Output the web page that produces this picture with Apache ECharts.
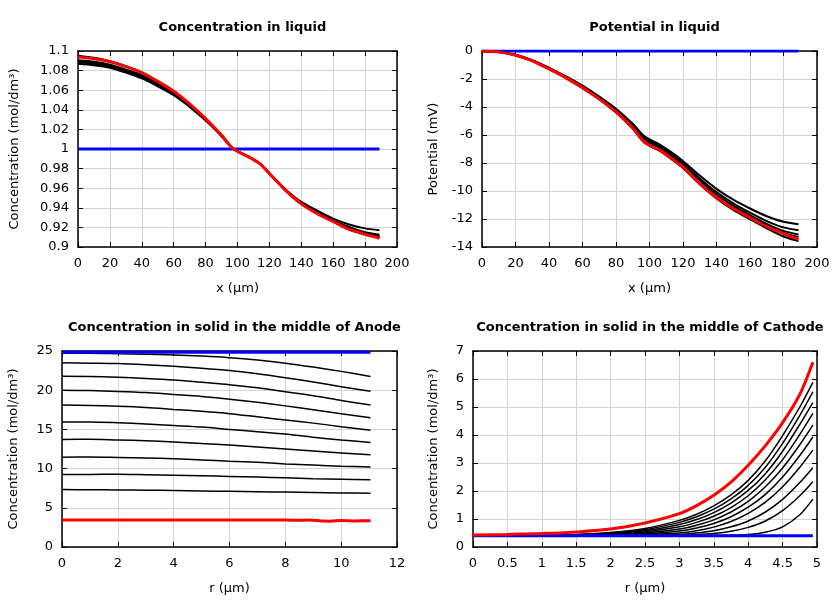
<!DOCTYPE html>
<html><head><meta charset="utf-8">
<script src="https://cdn.jsdelivr.net/npm/echarts@6/dist/echarts.min.js"></script>
<style>html,body{margin:0;padding:0;background:#fff}#c{width:840px;height:600px}</style>
</head><body><div id="c"></div>
<script>
// ---------- Data ----------
// Liquid (x in µm)
const LIQ_X = [0,10,20,30,40,50,60,70,80,90,97,107,114,120,130,140,150,160,170,180,189];
const LIQ_CONC_RED = [1.094,1.092,1.089,1.084,1.078,1.069,1.059,1.046,1.031,1.014,1.0006,0.992,0.985,0.975,0.958,0.944,0.934,0.926,0.918,0.913,0.909];
const LIQ_CONC_B1 = [1.087,1.0855,1.083,1.078,1.072,1.064,1.055,1.043,1.029,1.013,1.0005,0.992,0.985,0.975,0.959,0.946,0.937,0.929,0.923,0.919,0.917];
const LIQ_CONC_B2 = [1.0885,1.087,1.084,1.079,1.073,1.065,1.056,1.044,1.030,1.0135,1.0005,0.992,0.985,0.975,0.9585,0.945,0.9355,0.927,0.9205,0.915,0.9125];
const LIQ_CONC_B3 = [1.0895,1.088,1.085,1.080,1.0745,1.066,1.057,1.0445,1.0303,1.0137,1.0005,0.992,0.985,0.975,0.958,0.9445,0.935,0.9265,0.919,0.914,0.911];
const LIQ_CONC_B4 = [1.0905,1.089,1.086,1.081,1.0755,1.067,1.0575,1.045,1.0306,1.014,1.0005,0.992,0.985,0.975,0.958,0.9443,0.9345,0.926,0.9185,0.9135,0.910];
const LIQ_CONC_B5 = [1.0952,1.093,1.0895,1.0845,1.078,1.069,1.059,1.046,1.031,1.014,1.0006,0.992,0.985,0.975,0.958,0.944,0.934,0.926,0.918,0.913,0.9095];
const LIQ_CONC_BLUE = [1.0,1.0];
const LIQ_X_BLUE = [0,189];

const LIQ_POT_RED = [0,-0.08,-0.3,-0.7,-1.28,-1.9,-2.62,-3.42,-4.35,-5.5,-6.5,-7.15,-7.75,-8.3,-9.45,-10.45,-11.25,-11.9,-12.55,-13.05,-13.45];
const LIQ_POT_B1 = [0,-0.07,-0.27,-0.65,-1.2,-1.8,-2.48,-3.25,-4.12,-5.2,-6.1,-6.75,-7.3,-7.85,-8.9,-9.85,-10.62,-11.25,-11.8,-12.2,-12.38];
const LIQ_POT_B2 = [0,-0.07,-0.28,-0.67,-1.22,-1.83,-2.52,-3.3,-4.2,-5.3,-6.22,-6.87,-7.45,-8.0,-9.1,-10.08,-10.88,-11.55,-12.15,-12.6,-12.8];
const LIQ_POT_B3 = [0,-0.08,-0.29,-0.68,-1.24,-1.86,-2.56,-3.35,-4.26,-5.38,-6.32,-6.97,-7.56,-8.12,-9.25,-10.25,-11.05,-11.72,-12.35,-12.85,-13.1];
const LIQ_POT_B4 = [0,-0.08,-0.29,-0.69,-1.26,-1.88,-2.6,-3.39,-4.31,-5.44,-6.4,-7.05,-7.65,-8.2,-9.35,-10.35,-11.15,-11.82,-12.45,-13.0,-13.28];
const LIQ_POT_B5 = [0,-0.08,-0.31,-0.71,-1.3,-1.93,-2.65,-3.46,-4.4,-5.56,-6.55,-7.2,-7.8,-8.36,-9.52,-10.53,-11.35,-12.02,-12.67,-13.25,-13.58];
const LIQ_POT_BLUE = [0,0];

// Anode solid (r in µm)
const AN_R = [0,1,2,3,4,5,6,7,8,9,10,11.05];
const AN_B1 = [24.7,24.7,24.65,24.6,24.5,24.35,24.15,23.85,23.45,22.95,22.4,21.75];
const AN_B2 = [23.5,23.45,23.4,23.25,23.05,22.8,22.5,22.1,21.6,21.05,20.45,19.87];
const AN_B3 = [21.77,21.75,21.65,21.5,21.3,21.0,20.7,20.3,19.8,19.3,18.7,18.1];
const AN_B4 = [19.98,19.95,19.85,19.7,19.45,19.2,18.85,18.45,18.0,17.5,17.0,16.5];
const AN_B5 = [18.1,18.05,17.95,17.8,17.55,17.3,17.0,16.6,16.2,15.8,15.35,14.9];
const AN_B6 = [15.93,15.95,15.85,15.7,15.5,15.3,15.0,14.7,14.4,14.0,13.65,13.33];
const AN_B7 = [13.72,13.75,13.65,13.55,13.4,13.2,13.0,12.75,12.5,12.25,12.0,11.76];
const AN_B8 = [11.46,11.48,11.42,11.35,11.25,11.1,10.95,10.8,10.6,10.45,10.3,10.2];
const AN_B9 = [9.24,9.25,9.28,9.22,9.15,9.08,9.0,8.92,8.82,8.72,8.65,8.57];
const AN_B10 = [7.33,7.3,7.28,7.25,7.2,7.15,7.1,7.05,7.0,6.95,6.9,6.87];
const AN_R_RED = [0,1,2,3,4,5,6,7,8,8.5,8.8,9.0,9.3,9.6,10,10.5,11.05];
const AN_RED = [3.45,3.45,3.45,3.45,3.45,3.45,3.45,3.45,3.45,3.4,3.45,3.42,3.32,3.3,3.38,3.33,3.35];
const AN_R_BLUE = [0,11.05];
const AN_BLUE = [24.85,24.85];

// Cathode solid (r in µm)
const CA_R = [0,0.5,1,1.5,2,2.5,3,3.25,3.5,3.75,4,4.25,4.5,4.75,4.94];
const CA_RED = [0.43,0.45,0.48,0.54,0.64,0.86,1.19,1.48,1.85,2.32,2.92,3.62,4.44,5.45,6.6];
const CA_B1 = [0.41,0.41,0.42,0.45,0.52,0.66,0.95,1.17,1.47,1.86,2.38,3.08,3.98,5.0,5.88];
const CA_B2 = [0.41,0.41,0.42,0.44,0.5,0.62,0.88,1.08,1.35,1.72,2.2,2.85,3.7,4.7,5.54];
const CA_B3 = [0.4,0.4,0.41,0.43,0.48,0.58,0.8,0.98,1.23,1.57,2.02,2.62,3.42,4.38,5.16];
const CA_B4 = [0.4,0.4,0.41,0.42,0.46,0.54,0.72,0.88,1.1,1.41,1.83,2.4,3.12,4.02,4.77];
const CA_B5 = [0.4,0.4,0.4,0.41,0.44,0.5,0.64,0.78,0.97,1.25,1.63,2.15,2.82,3.65,4.35];
const CA_B6 = [0.4,0.4,0.4,0.41,0.42,0.47,0.57,0.68,0.84,1.08,1.42,1.88,2.5,3.27,3.93];
const CA_B7 = [0.4,0.4,0.4,0.4,0.41,0.44,0.5,0.58,0.71,0.91,1.2,1.6,2.15,2.85,3.46];
const CA_B8 = [0.4,0.4,0.4,0.4,0.4,0.42,0.45,0.5,0.58,0.72,0.93,1.25,1.7,2.3,2.83];
const CA_B9 = [0.4,0.4,0.4,0.4,0.4,0.4,0.42,0.44,0.48,0.56,0.7,0.93,1.3,1.83,2.33];
const CA_B10 = [0.4,0.4,0.4,0.4,0.4,0.4,0.4,0.4,0.41,0.42,0.45,0.53,0.72,1.15,1.71];
const CA_R_BLUE = [0,4.94];
const CA_BLUE = [0.4,0.4];

const TITLES = ['Concentration in liquid','Potential in liquid','Concentration in solid in the middle of Anode','Concentration in solid in the middle of Cathode'];
const XNAMES = ['x (µm)','x (µm)','r (µm)','r (µm)'];
const YNAMES = ['Concentration (mol/dm³)','Potential (mV)','Concentration (mol/dm³)','Concentration (mol/dm³)'];

// ---------- Build ----------
const zip = (xs, ys) => xs.map((x, i) => [x, ys[i]]);
const FONT = 'DejaVu Sans';
const grids = [
  {left: 78, top: 51, width: 319, height: 196},
  {left: 482, top: 51, width: 335, height: 196},
  {left: 62, top: 351, width: 335, height: 196},
  {left: 473, top: 351, width: 344, height: 196}
];
const xr = [[0,200,20],[0,200,20],[0,12,2],[0,5,0.5]];
const yr = [[0.9,1.1,0.02],[-14,0,2],[0,25,5],[0,7,1]];
const yGap = [57,42,42,33];

const xAxes = [], yAxes = [];
const lineAx = {show: true, onZero: false, lineStyle: {color: '#000', width: 1.5}};
const tickAx = {show: true, inside: true, length: 5, lineStyle: {color: '#000', width: 1}};
grids.forEach((g, i) => {
  xAxes.push({gridIndex: i, type: 'value', min: xr[i][0], max: xr[i][1], interval: xr[i][2], position: 'bottom',
    name: XNAMES[i], nameLocation: 'middle', nameGap: 35, nameTextStyle: {fontFamily: FONT, fontSize: 13, color: '#000'},
    axisLine: lineAx, axisTick: tickAx,
    axisLabel: {fontFamily: FONT, fontSize: 13, color: '#000', margin: 10},
    splitLine: {show: true, lineStyle: {color: '#d3d3d3', width: 1}}});
  xAxes.push({gridIndex: i, type: 'value', min: xr[i][0], max: xr[i][1], interval: xr[i][2], position: 'top',
    axisLine: lineAx, axisTick: tickAx, axisLabel: {show: false}, splitLine: {show: false}});
  yAxes.push({gridIndex: i, type: 'value', min: yr[i][0], max: yr[i][1], interval: yr[i][2], position: 'left',
    name: YNAMES[i], nameLocation: 'middle', nameGap: yGap[i], nameTextStyle: {fontFamily: FONT, fontSize: 13, color: '#000'},
    axisLine: lineAx, axisTick: tickAx,
    axisLabel: {fontFamily: FONT, fontSize: 13, color: '#000', margin: 9},
    splitLine: {show: true, lineStyle: {color: '#d3d3d3', width: 1}}});
  yAxes.push({gridIndex: i, type: 'value', min: yr[i][0], max: yr[i][1], interval: yr[i][2], position: 'right',
    axisLine: lineAx, axisTick: tickAx, axisLabel: {show: false}, splitLine: {show: false}});
});

const series = [];
function add(gi, xs, ys, color, width, smooth) {
  series.push({type: 'line', xAxisIndex: gi * 2, yAxisIndex: gi * 2, data: zip(xs, ys),
    showSymbol: false, symbol: 'none', smooth: smooth,
    lineStyle: {color: color, width: width}, silent: true, animation: false});
}
// grid 0
[LIQ_CONC_B1, LIQ_CONC_B2, LIQ_CONC_B3, LIQ_CONC_B4, LIQ_CONC_B5].forEach(b => add(0, LIQ_X, b, '#000', 2, 0.25));
add(0, LIQ_X_BLUE, LIQ_CONC_BLUE, '#0000ff', 3, false);
add(0, LIQ_X, LIQ_CONC_RED, '#ff0000', 3, 0.25);
// grid 1
[LIQ_POT_B1, LIQ_POT_B2, LIQ_POT_B3, LIQ_POT_B4, LIQ_POT_B5].forEach(b => add(1, LIQ_X, b, '#000', 2, 0.25));
add(1, LIQ_X_BLUE, LIQ_POT_BLUE, '#0000ff', 3, false);
add(1, LIQ_X, LIQ_POT_RED, '#ff0000', 3, 0.25);
// grid 2
[AN_B1, AN_B2, AN_B3, AN_B4, AN_B5, AN_B6, AN_B7, AN_B8, AN_B9, AN_B10].forEach(b => add(2, AN_R, b, '#000', 1.5, 0.3));
add(2, AN_R_BLUE, AN_BLUE, '#0000ff', 3, false);
add(2, AN_R_RED, AN_RED, '#ff0000', 3, 0.3);
// grid 3
[CA_B1, CA_B2, CA_B3, CA_B4, CA_B5, CA_B6, CA_B7, CA_B8, CA_B9, CA_B10].forEach(b => add(3, CA_R, b, '#000', 1.5, 0.3));
add(3, CA_R_BLUE, CA_BLUE, '#0000ff', 3, false);
add(3, CA_R, CA_RED, '#ff0000', 3, 0.3);

const titles = grids.map((g, i) => ({text: TITLES[i], left: g.left + g.width / 2, top: i < 2 ? 16 : 316, textAlign: 'center',
  textStyle: {fontFamily: FONT, fontSize: 13, fontWeight: 'bold', color: '#000'}}));

const chart = echarts.init(document.getElementById('c'), null, {renderer: 'canvas'});
chart.setOption({animation: false, backgroundColor: '#fff', title: titles, grid: grids, xAxis: xAxes, yAxis: yAxes, series: series});
</script></body></html>
